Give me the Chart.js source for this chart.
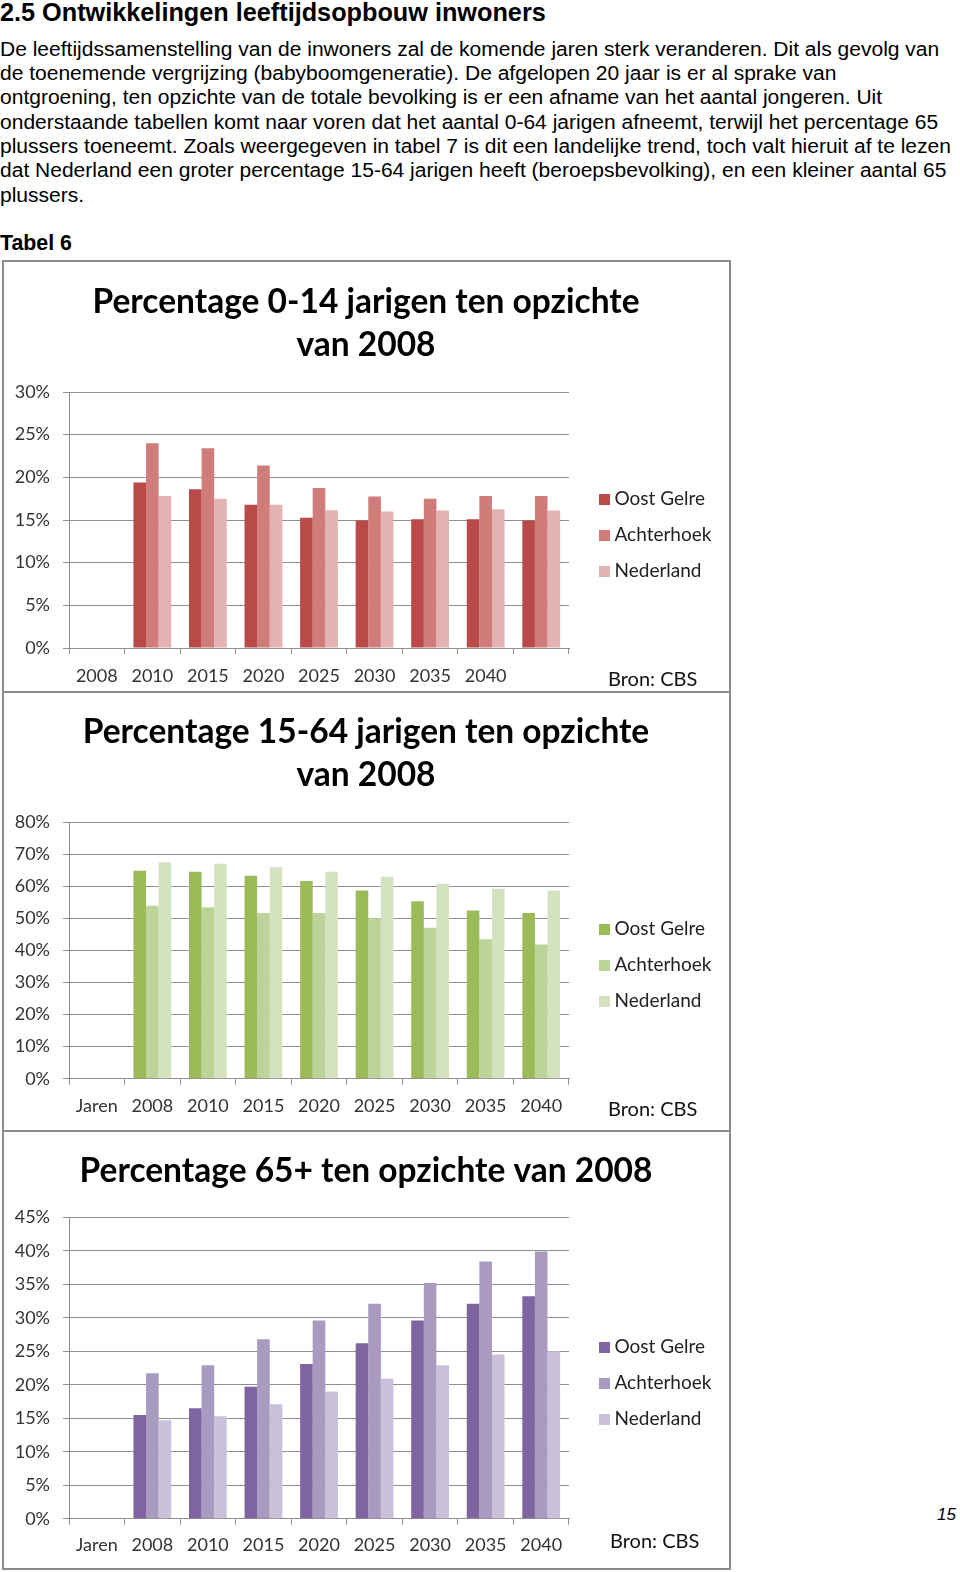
<!DOCTYPE html>
<html><head><meta charset="utf-8">
<script src="https://cdn.jsdelivr.net/npm/chart.js@4/dist/chart.umd.min.js"></script>
<style>
html,body{margin:0;padding:0;background:#fff;}
body{width:960px;height:1572px;position:relative;overflow:hidden;font-family:"Liberation Sans",Arial,sans-serif;color:#000;}
.ln{position:absolute;left:0;white-space:nowrap;font-size:20px;line-height:24px;}
.hd{font-weight:bold;}
.box{position:absolute;border:2px solid #8c8c8c;box-sizing:border-box;}
canvas{position:absolute;left:0;}
.bron{position:absolute;font-family:Lato,sans-serif;font-size:20px;line-height:24px;color:#111;white-space:nowrap;}
.pg{position:absolute;left:937px;top:1504px;font-style:italic;font-size:17px;line-height:22px;}
</style></head>
<body>
<div class="ln hd" id="h0" style="top:0px">2.5 Ontwikkelingen leeftijdsopbouw inwoners</div>
<div class="ln body" style="top:37px">De leeftijdssamenstelling van de inwoners zal de komende jaren sterk veranderen. Dit als gevolg van</div>
<div class="ln body" style="top:61px">de toenemende vergrijzing (babyboomgeneratie). De afgelopen 20 jaar is er al sprake van</div>
<div class="ln body" style="top:85px">ontgroening, ten opzichte van de totale bevolking is er een afname van het aantal jongeren. Uit</div>
<div class="ln body" style="top:110px">onderstaande tabellen komt naar voren dat het aantal 0-64 jarigen afneemt, terwijl het percentage 65</div>
<div class="ln body" style="top:134px">plussers toeneemt. Zoals weergegeven in tabel 7 is dit een landelijke trend, toch valt hieruit af te lezen</div>
<div class="ln body" style="top:158px">dat Nederland een groter percentage 15-64 jarigen heeft (beroepsbevolking), en een kleiner aantal 65</div>
<div class="ln body" style="top:183px">plussers.</div>
<div class="ln hd" id="tb" style="top:231px">Tabel 6</div>

<div class="box" style="left:2px;top:260px;width:729px;height:433px"></div>
<div class="box" style="left:2px;top:691px;width:729px;height:441px"></div>
<div class="box" style="left:2px;top:1130px;width:729px;height:440px"></div>

<canvas id="c1" width="730" height="430" style="top:262px"></canvas>
<canvas id="c2" width="730" height="430" style="top:692px"></canvas>
<canvas id="c3" width="730" height="430" style="top:1130px"></canvas>

<div class="bron" style="left:608px;top:666px">Bron: CBS</div>
<div class="bron" style="left:608px;top:1096px">Bron: CBS</div>
<div class="bron" style="left:610px;top:1528px">Bron: CBS</div>
<div class="pg">15</div>

<script>
// ---- data ----
const seriesNames = ['Oost Gelre', 'Achterhoek', 'Nederland'];
const labels014 = ['2008', '2010', '2015', '2020', '2025', '2030', '2035', '2040', ''];
const labelsJaren = ['Jaren', '2008', '2010', '2015', '2020', '2025', '2030', '2035', '2040'];

const oostGelre014 = [null, 19.4, 18.6, 16.8, 15.25, 14.95, 15.1, 15.1, 14.95];
const achterhoek014 = [null, 24.0, 23.4, 21.4, 18.75, 17.75, 17.5, 17.8, 17.8];
const nederland014 = [null, 17.8, 17.5, 16.8, 16.15, 16.0, 16.1, 16.25, 16.1];

const oostGelre1564 = [null, 64.9, 64.6, 63.3, 61.7, 58.7, 55.4, 52.5, 51.7];
const achterhoek1564 = [null, 54.0, 53.5, 51.7, 51.7, 50.1, 47.1, 43.5, 41.9];
const nederland1564 = [null, 67.5, 67.1, 66.0, 64.6, 63.0, 60.8, 59.3, 58.7];

const oostGelre65 = [null, 15.5, 16.5, 19.7, 23.1, 26.2, 29.6, 32.1, 33.2];
const achterhoek65 = [null, 21.7, 22.9, 26.8, 29.6, 32.1, 35.2, 38.4, 39.9];
const nederland65 = [null, 14.7, 15.3, 17.1, 19.0, 20.9, 22.9, 24.5, 25.0];

const title014 = ['Percentage 0-14 jarigen ten opzichte', 'van 2008'];
const title1564 = ['Percentage 15-64 jarigen ten opzichte', 'van 2008'];
const title65 = 'Percentage 65+ ten opzichte van 2008';

const redColors = ['#b94a48', '#cf7c7b', '#e3b3b2'];
const greenColors = ['#9bbb59', '#bcd39a', '#d5e2bf'];
const purpleColors = ['#8064a2', '#a99bc0', '#c9c1d9'];

// ---- header text fitting ----
function fitHeader(){
  const c = document.createElement('canvas').getContext('2d');
  c.font = '20px "Liberation Sans"';
  const w1 = c.measureText('De leeftijdssamenstelling van de inwoners zal de komende jaren sterk veranderen. Dit als gevolg van').width;
  const fs = 20 * 940 / w1;
  document.querySelectorAll('.body').forEach(e => e.style.fontSize = fs.toFixed(2) + 'px');
  c.font = 'bold 20px "Liberation Sans"';
  const w0 = c.measureText('2.5 Ontwikkelingen leeftijdsopbouw inwoners').width;
  document.getElementById('h0').style.fontSize = (20 * 546 / w0).toFixed(2) + 'px';
  const wt = c.measureText('Tabel 6').width;
  document.getElementById('tb').style.fontSize = (20 * 72 / wt).toFixed(2) + 'px';
}

const W = 730, PLOT_LEFT = 69, PLOT_RIGHT = 569, LEG_PAD = 17, LEG_FONT = 19, SWATCH = 11;
const ICON_W = 39, SWATCH_X = 23;
const TITLE_CENTER = 366, GRID = '#8f8f8f', TICK_COLOR = '#333', TICK_FONT = 18, TITLE_FONT = 33.5;

// legend swatch drawn into a small canvas used as point style (square offset to the right)
function swatch(color) {
  const c = document.createElement('canvas');
  c.width = ICON_W; c.height = SWATCH;
  const g = c.getContext('2d');
  g.fillStyle = color;
  g.fillRect(SWATCH_X, 0, SWATCH, SWATCH);
  return c;
}

function makeChart(id, cfg) {
  const ctx = document.getElementById(id).getContext('2d');
  const icons = cfg.colors.map(swatch);
  const chart = new Chart(ctx, {
    type: 'bar',
    data: {
      labels: cfg.labels,
      datasets: cfg.series.map((d, i) => ({
        label: seriesNames[i], data: d, backgroundColor: cfg.colors[i],
        borderWidth: 0, categoryPercentage: 0.68, barPercentage: 1.0
      }))
    },
    options: {
      responsive: false, animation: false, devicePixelRatio: 1,
      layout: { padding: { left: 11, top: 0, right: 9, bottom: cfg.padBottom } },
      plugins: {
        title: {
          display: true, text: cfg.title, color: '#000',
          font: { family: 'Lato', size: TITLE_FONT, weight: 'bold', lineHeight: 43 / TITLE_FONT },
          padding: { top: cfg.titleTop, bottom: cfg.titleBottom }
        },
        legend: {
          display: true, position: 'right', fullSize: false, align: 'center',
          title: { display: true, text: ' ', font: { size: 10, lineHeight: 1.2 }, padding: { top: cfg.legShift - 12, bottom: 0 } },
          labels: {
            usePointStyle: true, boxWidth: LEG_FONT, boxHeight: LEG_FONT, padding: LEG_PAD,
            color: '#222', font: { family: 'Lato', size: LEG_FONT },
            generateLabels(ch) {
              const items = Chart.defaults.plugins.legend.labels.generateLabels(ch);
              items.forEach((it, i) => { it.pointStyle = icons[i]; });
              return items;
            }
          }
        },
        tooltip: { enabled: false }
      },
      scales: {
        x: {
          grid: { display: true, drawOnChartArea: false, drawTicks: true, tickLength: 6, offset: true, color: GRID },
          border: { display: true, color: GRID },
          ticks: { color: TICK_COLOR, font: { family: 'Lato', size: TICK_FONT }, padding: cfg.xPad, maxRotation: 0, autoSkip: false },
          afterFit(s) { s.height = 38; }
        },
        y: {
          min: 0, max: cfg.max,
          ticks: { stepSize: cfg.step, callback: v => v + '%', color: TICK_COLOR, font: { family: 'Lato', size: TICK_FONT }, padding: 13 },
          grid: { color: GRID, tickLength: 6 },
          border: { display: true, color: GRID },
          afterFit(s) { s.width = PLOT_LEFT - s.chart.options.layout.padding.left; }
        }
      }
    }
  });
  // align the plot's right edge and the title centre with the reference layout
  for (let k = 0; k < 4; k++) {
    const pad = chart.options.layout.padding;
    const d = chart.chartArea.right - PLOT_RIGHT;
    if (Math.abs(d) < 0.25) break;
    pad.right += d;
    pad.left = Math.max(0, 2 * TITLE_CENTER - W + pad.right);
    chart.update();
  }
  return chart;
}

function build() {
  fitHeader();
  Chart.defaults.font.family = 'Lato';
  makeChart('c1', {
    labels: labels014, series: [oostGelre014, achterhoek014, nederland014], colors: redColors,
    title: title014, max: 30, step: 5, titleTop: 18.5, titleBottom: 25.5, padBottom: 6, xPad: 11, legShift: 30
  });
  makeChart('c2', {
    labels: labelsJaren, series: [oostGelre1564, achterhoek1564, nederland1564], colors: greenColors,
    title: title1564, max: 80, step: 10, titleTop: 18.5, titleBottom: 25.8, padBottom: 5.3, xPad: 11, legShift: 29
  });
  makeChart('c3', {
    labels: labelsJaren, series: [oostGelre65, achterhoek65, nederland65], colors: purpleColors,
    title: title65, max: 45, step: 5, titleTop: 19.5, titleBottom: 24.8, padBottom: 3.3, xPad: 10, legShift: 30
  });
}

Promise.all([
  document.fonts.load('19px Lato'), document.fonts.load('bold 33px Lato'),
  document.fonts.load('20px "Liberation Sans"'), document.fonts.load('bold 20px "Liberation Sans"')
]).then(build, build);
</script>
</body></html>
